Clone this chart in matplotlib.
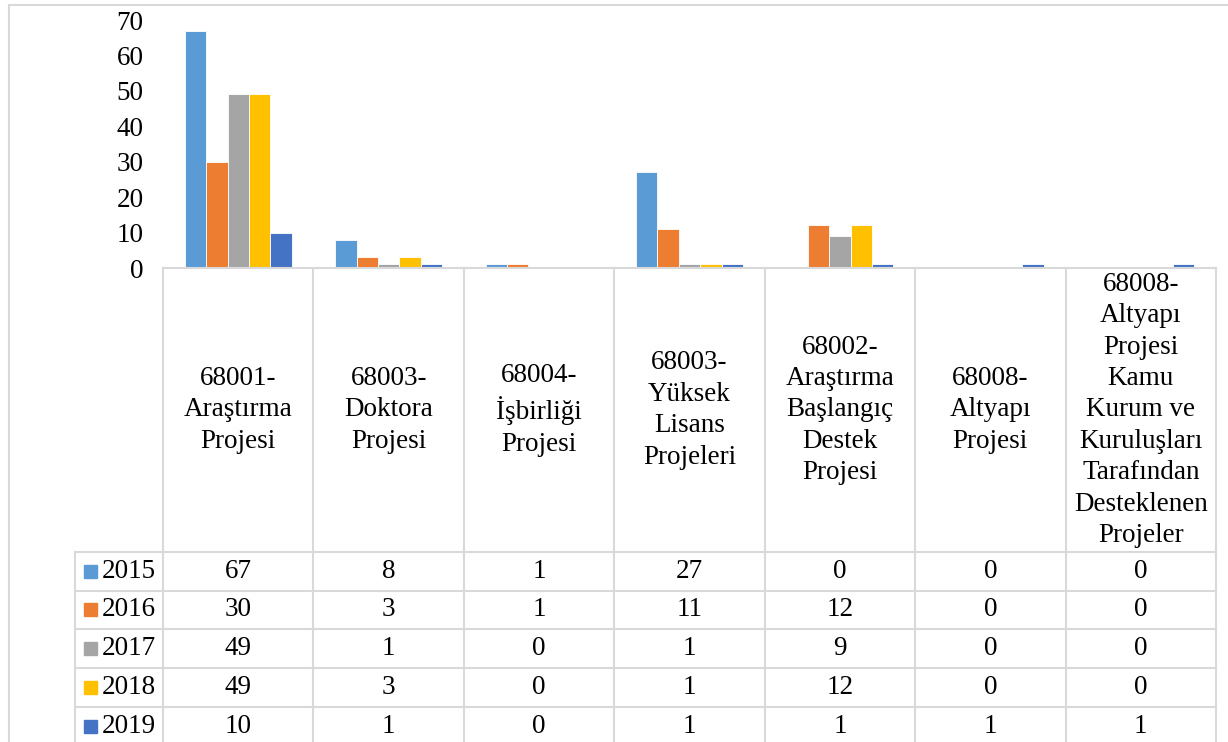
import numpy as np
import matplotlib.pyplot as plt

plt.rcParams['font.family'] = ['Liberation Serif', 'DejaVu Serif']

categories = ['68001-\nAraştırma\nProjesi', '68003-\nDoktora\nProjesi', '68004-\nİşbirliği\nProjesi',
              '68003-\nYüksek\nLisans\nProjeleri', '68002-\nAraştırma\nBaşlangıç\nDestek\nProjesi',
              '68008-\nAltyapı\nProjesi',
              '68008-\nAltyapı\nProjesi\nKamu\nKurum ve\nKuruluşları\nTarafından\nDesteklenen\nProjeler']
years = ['2015', '2016', '2017', '2018', '2019']
v2015 = [67, 8, 1, 27, 0, 0, 0]
v2016 = [30, 3, 1, 11, 12, 0, 0]
v2017 = [49, 1, 0, 1, 9, 0, 0]
v2018 = [49, 3, 0, 1, 12, 0, 0]
v2019 = [10, 1, 0, 1, 1, 1, 1]
series = [v2015, v2016, v2017, v2018, v2019]
colors = ['#5B9BD5', '#ED7D31', '#A5A5A5', '#FFC000', '#4472C4']

W, H = 1228, 742
fig = plt.figure(figsize=(W / 100, H / 100), dpi=100)

# pixel-based layout
x0, x1 = 163, 1216      # plot / table columns
y_zero, y_top = 268, 20  # value 0 and value 70
legend_x = 75
row_tops = [552, 591, 629, 668, 707, 746]
grid = '#D9D9D9'
fs = 19.5

ax = fig.add_axes([x0 / W, 1 - y_zero / H, (x1 - x0) / W, (y_zero - y_top) / H])
n = len(categories)
x = np.arange(n)
bw = 0.71 / 5
for i, (vals, c) in enumerate(zip(series, colors)):
    ax.bar(x + (i - 2) * bw, vals, bw, color=c, edgecolor='white', linewidth=0.6, zorder=2)
ax.set_xlim(-0.5, n - 0.5)
ax.set_ylim(0, 70)
ax.set_yticks(range(0, 71, 10))
ax.tick_params(axis='y', length=0, pad=14, labelsize=fs)
ax.set_xticks([])
for s in ['top', 'right', 'left']:
    ax.spines[s].set_visible(False)
ax.spines['bottom'].set_color(grid)
ax.spines['bottom'].set_linewidth(1.5)
ax.patch.set_alpha(0)

# overlay in pixel coords for table
ov = fig.add_axes([0, 0, 1, 1], zorder=-1)
ov.set_xlim(0, W)
ov.set_ylim(H, 0)
ov.axis('off')

# outer chart border
ov.plot([9, 9], [5, H], color=grid, lw=1.5)
ov.plot([9, W], [5, 5], color=grid, lw=1.5)

colw = (x1 - x0) / n
edges = [x0 + k * colw for k in range(n + 1)]
for e in edges:
    ov.plot([e, e], [y_zero, H], color=grid, lw=1.5)
ov.plot([legend_x, legend_x], [row_tops[0], H], color=grid, lw=1.5)
for r in row_tops[:-1]:
    ov.plot([legend_x, x1], [r, r], color=grid, lw=1.5)

for k, cat in enumerate(categories):
    cx = x0 + (k + 0.5) * colw
    ov.text(cx, (y_zero + row_tops[0]) / 2, cat, ha='center', va='center',
            fontsize=fs, linespacing=1.34)

for j, (yr, vals, c) in enumerate(zip(years, series, colors)):
    cy = (row_tops[j] + row_tops[j + 1]) / 2
    ov.add_patch(plt.Rectangle((84, cy - 7), 13, 13, color=c))
    ov.text(102, cy, yr, ha='left', va='center', fontsize=fs)
    for k, v in enumerate(vals):
        ov.text(x0 + (k + 0.5) * colw, cy, str(v), ha='center', va='center', fontsize=fs)

fig.savefig('out.png', dpi=100)
